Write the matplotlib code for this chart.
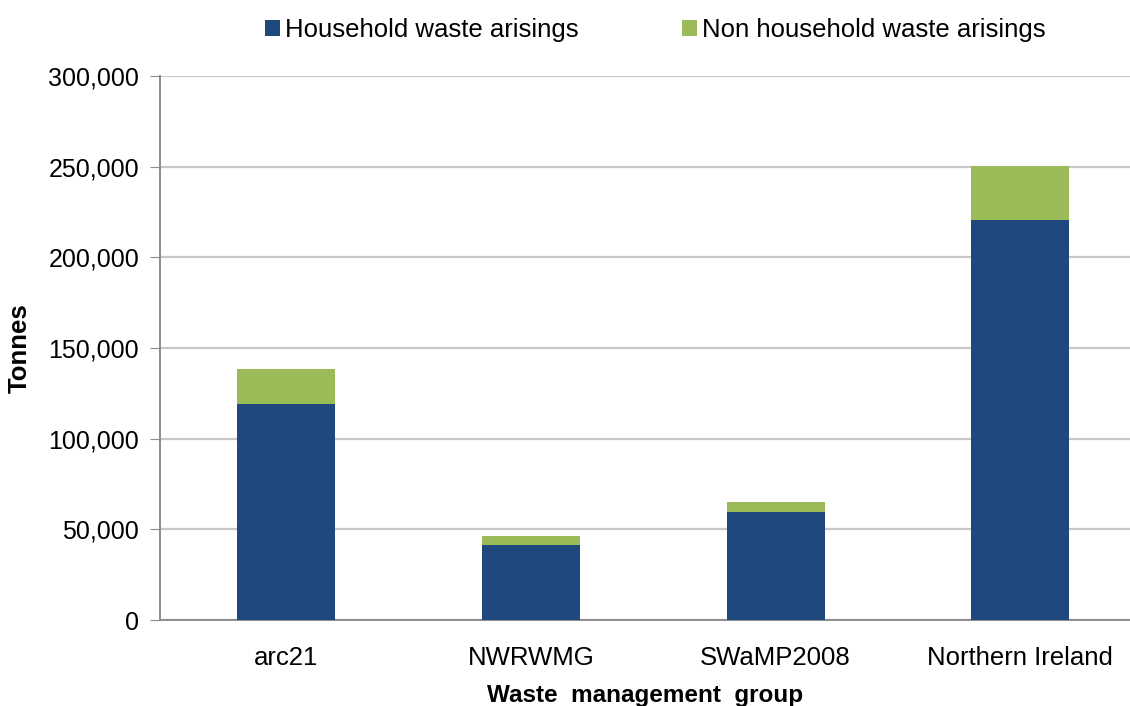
import matplotlib
matplotlib.use("Agg")
import matplotlib.pyplot as plt
from matplotlib.ticker import FuncFormatter
import numpy as np

# Values (tonnes)
GROUPS = ["arc21", "NWRWMG", "SWaMP2008", "Northern Ireland"]
HOUSEHOLD = [119300, 41200, 59700, 220400]
NON_HOUSEHOLD = [19000, 5300, 5500, 30000]

NAVY = "#1F497D"
GREEN = "#9BBB59"

plt.rcParams["font.family"] = ["Liberation Sans", "DejaVu Sans"]

fig = plt.figure(figsize=(11.3, 7.06), dpi=100)
ax = fig.add_axes([160 / 1130, 1 - 620 / 706, 1 - 160 / 1130, (620 - 76) / 706])

x = np.arange(len(GROUPS))
ax.bar(x, HOUSEHOLD, width=0.4, color=NAVY, label="Household waste arisings", zorder=3)
ax.bar(x, NON_HOUSEHOLD, width=0.4, bottom=HOUSEHOLD, color=GREEN,
       label="Non household waste arisings", zorder=3)

ax.set_xlim(-0.515, 3.448)
ax.set_ylim(0, 300000)
ax.set_yticks(np.arange(0, 300001, 50000))
ax.yaxis.set_major_formatter(FuncFormatter(lambda v, _: f"{int(v):,}"))
ax.set_xticks(x)
ax.set_xticklabels(GROUPS)

ax.grid(axis="y", color="#C8C8C8", linewidth=1.6, zorder=0)
for side in ("top", "right"):
    ax.spines[side].set_visible(False)
for side in ("left", "bottom"):
    ax.spines[side].set_color("#8C8C8C")
    ax.spines[side].set_linewidth(1.4)

ax.tick_params(axis="y", labelsize=18, length=7, color="#8C8C8C", pad=8)
ax.tick_params(axis="x", labelsize=18.5, length=0, pad=19)

ax.set_ylabel("Tonnes", fontsize=18.5, fontweight="bold", labelpad=12)
ax.set_xlabel("Waste  management  group", fontsize=17.5, fontweight="bold", labelpad=10)

fig.legend(loc="center", bbox_to_anchor=(0.58, 1 - 30 / 706), ncol=2, frameon=False,
           fontsize=18.5, handlelength=0.6, handleheight=0.6, handletextpad=0.2,
           columnspacing=4.0)

fig.savefig("out.png", dpi=100)
